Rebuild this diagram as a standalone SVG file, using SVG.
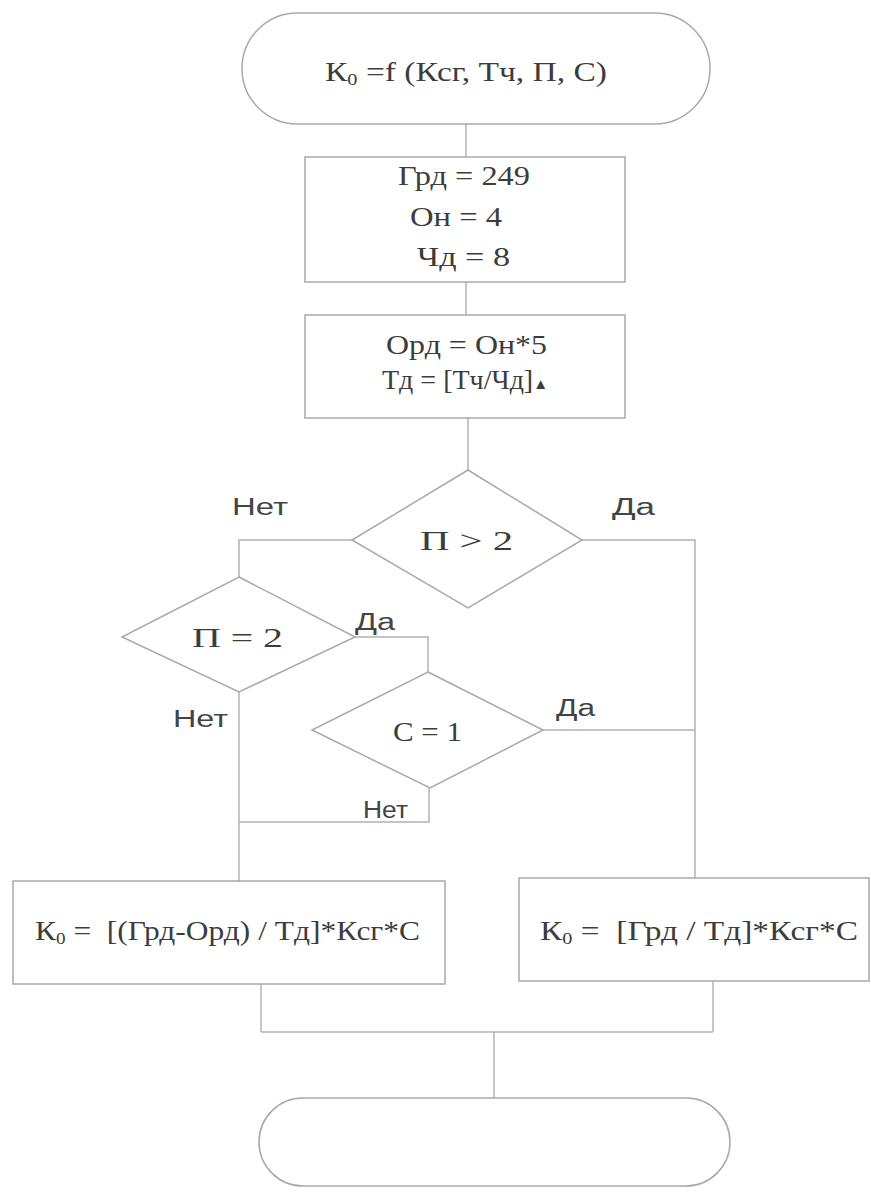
<svg xmlns="http://www.w3.org/2000/svg" width="871" height="1192" viewBox="0 0 871 1192">
<style>
.shape{fill:#ffffff;stroke:#a9a9a9;stroke-width:1.5}
.line{fill:none;stroke:#b3b3b3;stroke-width:1.5}
.t{font-family:"Liberation Serif","Times New Roman",serif;font-size:28px;fill:#3c3c3c}
.s{font-size:17px}
.lbl{font-family:"Liberation Sans",Arial,sans-serif;font-size:23px;fill:#444444}
</style>
<rect width="871" height="1192" fill="#ffffff"/>
<g id="connectors">
<path class="line" d="M466 124V157"/>
<path class="line" d="M466 282V315"/>
<path class="line" d="M468 418V470"/>
<path class="line" d="M352 540H239V577"/>
<path class="line" d="M582 540H695V878"/>
<path class="line" d="M355 637H428V672"/>
<path class="line" d="M543 730H695"/>
<path class="line" d="M429 788V822H239"/>
<path class="line" d="M239 692V881"/>
<path class="line" d="M261 984V1032"/>
<path class="line" d="M713 981V1032"/>
<path class="line" d="M261 1032H713"/>
<path class="line" d="M494 1032V1098"/>
</g>
<g id="start">
<rect class="shape" x="242" y="13" width="468" height="111" rx="55.5"/>
<text class="t" x="325" y="81" textLength="282" lengthAdjust="spacingAndGlyphs">К<tspan class="s" dy="4">0</tspan><tspan dy="-4"> =f (Ксг, Тч, П, С)</tspan></text>
</g>
<g id="init">
<rect class="shape" x="305" y="157" width="320" height="125"/>
<text class="t" x="398" y="185" textLength="132" lengthAdjust="spacingAndGlyphs">Грд = 249</text>
<text class="t" x="410" y="226" textLength="92" lengthAdjust="spacingAndGlyphs">Он = 4</text>
<text class="t" x="417" y="266" textLength="93" lengthAdjust="spacingAndGlyphs">Чд = 8</text>
</g>
<g id="calc">
<rect class="shape" x="305" y="315" width="320" height="103"/>
<text class="t" x="386" y="354" textLength="161" lengthAdjust="spacingAndGlyphs">Орд = Он*5</text>
<text class="t" x="382" y="389">Тд = [Тч/Чд]<tspan font-size="15">▲</tspan></text>
</g>
<g id="cond1">
<polygon class="shape" points="468,470 582,540 468,608 352,540"/>
<text class="t" x="420" y="550" textLength="93" lengthAdjust="spacingAndGlyphs">П &gt; 2</text>
</g>
<g id="cond2">
<polygon class="shape" points="239,577 355,637 239,692 122,637"/>
<text class="t" x="192" y="647" textLength="91" lengthAdjust="spacingAndGlyphs">П = 2</text>
</g>
<g id="cond3">
<polygon class="shape" points="428,672 543,730 430,788 312,730"/>
<text class="t" x="393" y="741" textLength="69" lengthAdjust="spacingAndGlyphs">С = 1</text>
</g>
<g id="labels">
<text class="lbl" x="232" y="515" textLength="56" lengthAdjust="spacingAndGlyphs">Нет</text>
<text class="lbl" x="612" y="515" textLength="43" lengthAdjust="spacingAndGlyphs">Да</text>
<text class="lbl" x="355" y="630" textLength="40" lengthAdjust="spacingAndGlyphs">Да</text>
<text class="lbl" x="173" y="727" textLength="55" lengthAdjust="spacingAndGlyphs">Нет</text>
<text class="lbl" x="556" y="716" textLength="39" lengthAdjust="spacingAndGlyphs">Да</text>
<text class="lbl" x="363" y="818" textLength="45" lengthAdjust="spacingAndGlyphs">Нет</text>
</g>
<g id="formula1">
<rect class="shape" x="13" y="881" width="432" height="103"/>
<text class="t" x="35" y="940" xml:space="preserve" textLength="385" lengthAdjust="spacingAndGlyphs">К<tspan class="s" dy="4">0</tspan><tspan dy="-4"> =  [(Грд-Орд) / Тд]*Ксг*С</tspan></text>
</g>
<g id="formula2">
<rect class="shape" x="519" y="878" width="350" height="103"/>
<text class="t" x="540" y="940" xml:space="preserve" textLength="318" lengthAdjust="spacingAndGlyphs">К<tspan class="s" dy="4">0</tspan><tspan dy="-4"> =  [Грд / Тд]*Ксг*С</tspan></text>
</g>
<g id="end">
<rect class="shape" x="259" y="1098" width="471" height="88" rx="44"/>
</g>
</svg>
